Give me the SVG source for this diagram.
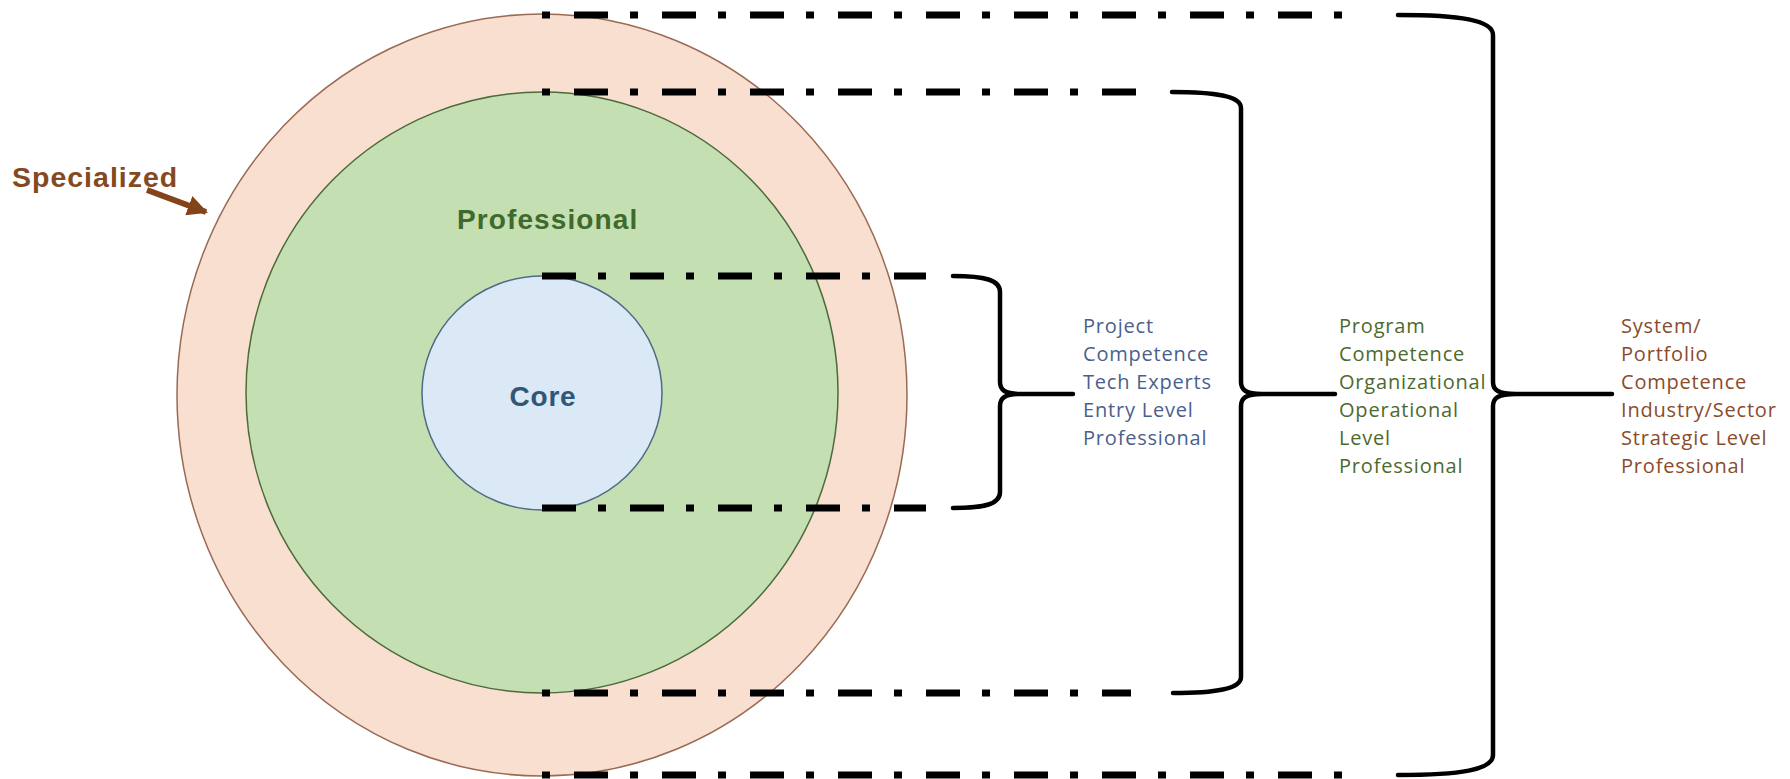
<svg xmlns="http://www.w3.org/2000/svg" width="1790" height="779" viewBox="0 0 1790 779">
<style>
.dash{stroke:#000;stroke-width:7;fill:none;stroke-dasharray:34 22 8 24}
.brace{stroke:#000;stroke-width:4.5;fill:none;stroke-linecap:round;stroke-linejoin:round}
.lbl{font-family:"Liberation Sans","Open Sans",Arial,sans-serif;font-weight:bold}
.desc{font-family:"Open Sans","Liberation Sans",sans-serif;font-size:20px;letter-spacing:0.8px}
</style>
<defs>
<marker id="ah" viewBox="0 0 10 10" refX="9" refY="5" markerWidth="3.4" markerHeight="3.4" orient="auto" markerUnits="strokeWidth">
<path d="M0,0 L10,5 L0,10 z" fill="#84441a"/>
</marker>
</defs>
<rect width="1790" height="779" fill="#ffffff"/>
<g id="node-specialized">
<ellipse cx="542" cy="395" rx="365" ry="381" fill="#f9dfcf" stroke="#9a6a55" stroke-width="1.5"/>
<text class="lbl" x="12" y="187" font-size="28.5" fill="#84491f" letter-spacing="1">Specialized</text>
</g>
<g id="node-professional">
<ellipse cx="542" cy="392.5" rx="296" ry="300.5" fill="#c4dfb2" stroke="#4d6a3c" stroke-width="1.5"/>
<text class="lbl" x="457" y="229" font-size="28" fill="#3f6a2c" letter-spacing="1.1">Professional</text>
</g>
<g id="node-core">
<ellipse cx="542" cy="393" rx="120" ry="117" fill="#dbe8f5" stroke="#4d6b86" stroke-width="1.5"/>
<text class="lbl" x="543" y="406" font-size="28" fill="#2f5779" text-anchor="middle" letter-spacing="0.8">Core</text>
</g>
<g id="connectors">
<line class="dash" x1="542" y1="276" x2="926" y2="276"/>
<line class="dash" x1="542" y1="508" x2="926" y2="508"/>
<line class="dash" x1="542" y1="92" x2="1142" y2="92" stroke-dashoffset="56"/>
<line class="dash" x1="542" y1="693" x2="1131" y2="693" stroke-dashoffset="56"/>
<line class="dash" x1="542" y1="15" x2="1345" y2="15" stroke-dashoffset="56"/>
<line class="dash" x1="542" y1="775" x2="1345" y2="775" stroke-dashoffset="56"/>
<path class="brace" d="M953,276 C985,276 1000,280 1000,292 L1000,382 C1000,390 1005,394 1020,394 L1073,394 M1020,394 C1005,394 1000,398 1000,406 L1000,492 C1000,504 985,508 953,508"/>
<path class="brace" d="M1172,92 C1215,92 1241,96 1241,108 L1241,382 C1241,390 1246,394 1262,394 L1335,394 M1262,394 C1246,394 1241,398 1241,406 L1241,677 C1241,689 1215,693 1173,693"/>
<path class="brace" stroke-width="5" d="M1398,15 C1460,15 1493,20 1493,35 L1493,382 C1493,390 1498,394 1516,394 L1612,394 M1516,394 C1498,394 1493,398 1493,406 L1493,755 C1493,770 1460,775 1398,775"/>
<line x1="147" y1="190" x2="206" y2="212" stroke="#84441a" stroke-width="6" marker-end="url(#ah)"/>
</g>
<g id="node-project" class="desc" fill="#4a5f8e">
<text x="1083" y="333">Project</text>
<text x="1083" y="361">Competence</text>
<text x="1083" y="389">Tech Experts</text>
<text x="1083" y="417">Entry Level</text>
<text x="1083" y="445">Professional</text>
</g>
<g id="node-program" class="desc" fill="#4d6a2e">
<text x="1339" y="333">Program</text>
<text x="1339" y="361">Competence</text>
<text x="1339" y="389">Organizational</text>
<text x="1339" y="417">Operational</text>
<text x="1339" y="445">Level</text>
<text x="1339" y="473">Professional</text>
</g>
<g id="node-system" class="desc" fill="#8a4b2c">
<text x="1621" y="333">System/</text>
<text x="1621" y="361">Portfolio</text>
<text x="1621" y="389">Competence</text>
<text x="1621" y="417">Industry/Sector</text>
<text x="1621" y="445">Strategic Level</text>
<text x="1621" y="473">Professional</text>
</g>
</svg>
